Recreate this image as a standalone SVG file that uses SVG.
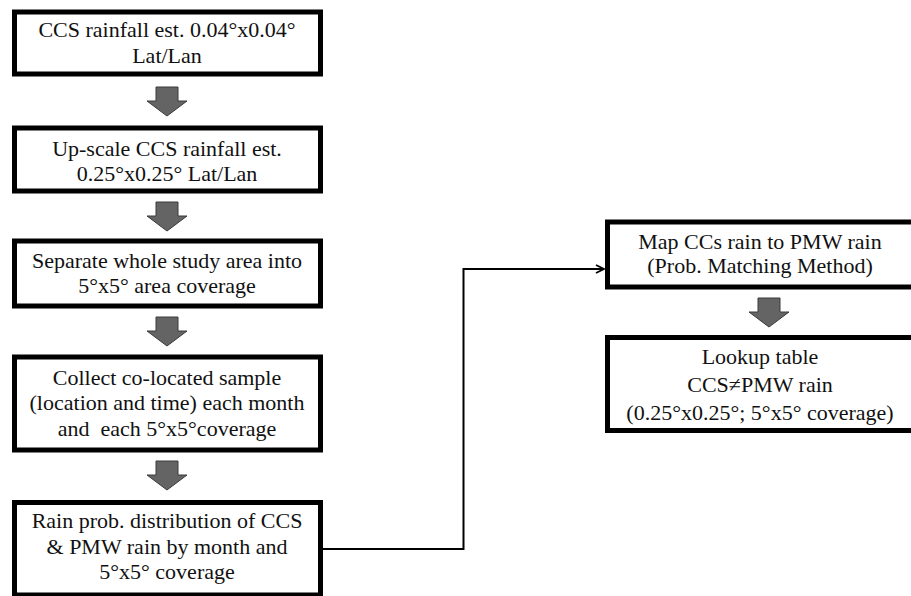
<svg xmlns="http://www.w3.org/2000/svg" width="911" height="596" viewBox="0 0 911 596">
<style>
.box{fill:#fff;stroke:#000;stroke-width:5}
.t{font-family:"Liberation Serif","Times New Roman",serif;font-size:22px;fill:#111;text-anchor:middle}
.blk{fill:#646464;stroke:#3a3a3a;stroke-width:1}
.con{fill:none;stroke:#000;stroke-width:2}
</style>
<defs>
<marker id="chev" viewBox="0 0 10 10" refX="9" refY="5" markerWidth="10" markerHeight="10" markerUnits="userSpaceOnUse" orient="auto">
<path d="M1,1 L9,5 L1,9" fill="none" stroke="#000" stroke-width="1.8"/>
</marker>
<path id="barrow" d="M-11,0 H11 V14 H20 L0,29 L-20,14 H-11 Z"/>
</defs>
<rect width="911" height="596" fill="#fff"/>
<g id="connectors">
<use href="#barrow" class="blk" x="167" y="87"/>
<use href="#barrow" class="blk" x="167" y="202"/>
<use href="#barrow" class="blk" x="167" y="317"/>
<use href="#barrow" class="blk" x="167" y="461"/>
<use href="#barrow" class="blk" x="769" y="298"/>
<path class="con" d="M322,549 H463.5 V269 H604" marker-end="url(#chev)"/>
</g>
<g id="n1">
<rect class="box" x="14.5" y="12" width="306" height="62"/>
<text class="t" x="167" y="37">CCS rainfall est. 0.04°x0.04°</text>
<text class="t" x="167" y="63">Lat/Lan</text>
</g>
<g id="n2">
<rect class="box" x="14.5" y="128" width="306" height="63"/>
<text class="t" x="167" y="156">Up-scale CCS rainfall est.</text>
<text class="t" x="167" y="181">0.25°x0.25° Lat/Lan</text>
</g>
<g id="n3">
<rect class="box" x="14.5" y="241" width="306" height="65"/>
<text class="t" x="167" y="268">Separate whole study area into</text>
<text class="t" x="167" y="293">5°x5° area coverage</text>
</g>
<g id="n4">
<rect class="box" x="14.5" y="357" width="306" height="93"/>
<text class="t" x="167" y="385">Collect co-located sample</text>
<text class="t" x="167" y="410">(location and time) each month</text>
<text class="t" x="167" y="436" xml:space="preserve">and  each 5°x5°coverage</text>
</g>
<g id="n5">
<rect class="box" x="14.5" y="502.5" width="306" height="92.5"/>
<text class="t" x="167" y="528">Rain prob. distribution of CCS</text>
<text class="t" x="167" y="554">&amp; PMW rain by month and</text>
<text class="t" x="167" y="579">5°x5° coverage</text>
</g>
<g id="n6">
<rect class="box" x="607.5" y="222" width="310" height="65"/>
<text class="t" x="760" y="249">Map CCs rain to PMW rain</text>
<text class="t" x="760" y="273">(Prob. Matching Method)</text>
</g>
<g id="n7">
<rect class="box" x="607.5" y="337.5" width="310" height="93"/>
<text class="t" x="760" y="364">Lookup table</text>
<text class="t" x="760" y="392">CCS≠PMW rain</text>
<text class="t" x="760" y="420">(0.25°x0.25°; 5°x5° coverage)</text>
</g>
</svg>
